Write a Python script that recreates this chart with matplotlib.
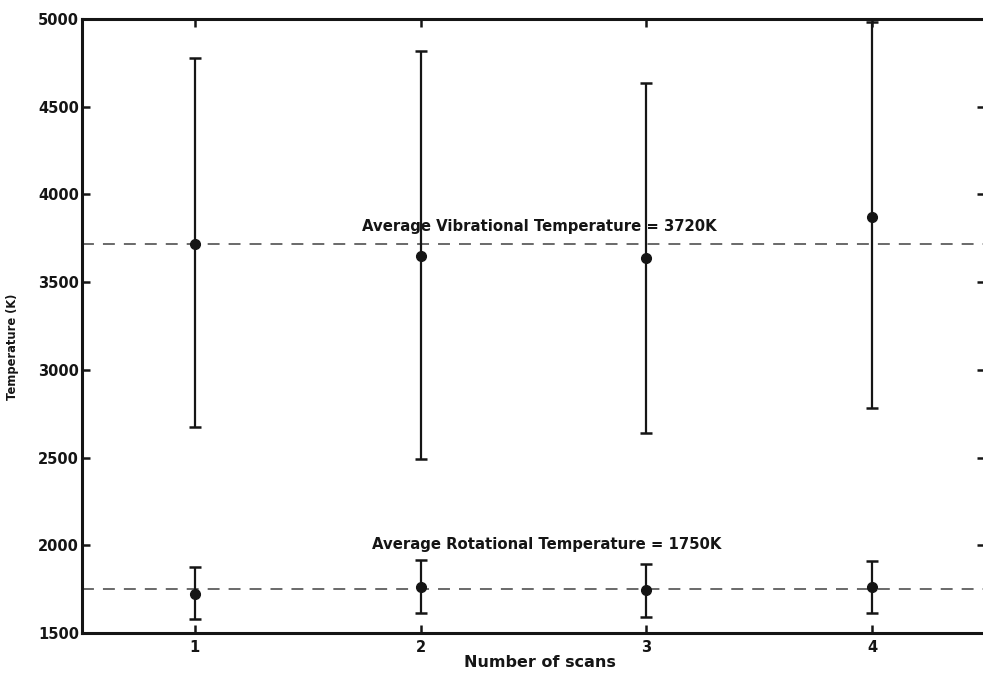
import matplotlib
matplotlib.use("Agg")
import matplotlib.pyplot as plt

scans = [1, 2, 3, 4]

# vibrational temperature per scan, with the ends of each error bar
vib_temp = [3720, 3650, 3635, 3870]
vib_low = [2675, 2490, 2640, 2780]
vib_high = [4780, 4820, 4635, 4985]

# rotational temperature per scan
rot_temp = [1725, 1765, 1745, 1760]
rot_low = [1578, 1616, 1593, 1612]
rot_high = [1878, 1916, 1892, 1910]

avg_vib = 3720
avg_rot = 1750

plt.rcParams["font.family"] = ["DejaVu Sans"]
ink = "#151515"

fig = plt.figure(figsize=(9.83, 6.76), dpi=100)
ax = fig.add_axes([0.0834, 0.0636, 1.002 - 0.0834, 0.972 - 0.0636])

def draw_series(temps, lows, highs):
    err = [[t - lo for t, lo in zip(temps, lows)],
           [hi - t for t, hi in zip(temps, highs)]]
    ax.errorbar(scans, temps, yerr=err, fmt="o", color=ink,
                ms=7, elinewidth=1.6, capsize=4, capthick=1.8, zorder=3)

draw_series(vib_temp, vib_low, vib_high)
draw_series(rot_temp, rot_low, rot_high)

for avg in (avg_vib, avg_rot):
    ax.axhline(avg, color="#5e5e5e", lw=1.3, ls=(0, (6.6, 5)), zorder=2)

ax.text(2.525, avg_vib + 96, "Average Vibrational Temperature = %dK" % avg_vib,
        ha="center", va="center", fontsize=10.7, fontweight="bold", color=ink)
ax.text(2.56, 2002, "Average Rotational Temperature = %dK" % avg_rot,
        ha="center", va="center", fontsize=10.7, fontweight="bold", color=ink)

ax.set_xlim(0.5, 4.5)
ax.set_ylim(1500, 5000)
ax.set_xticks(scans)
ax.set_yticks(range(1500, 5001, 500))

ax.set_xlabel("Number of scans", fontsize=11.5, fontweight="bold", color=ink)
ax.set_ylabel("Temperature (K)", fontsize=8.3, fontweight="bold", color=ink)
ax.xaxis.set_label_coords(0.507, -0.036)
ax.yaxis.set_label_coords(-0.0698, 0.466)

for side in ax.spines.values():
    side.set_linewidth(2.2)
    side.set_color(ink)
ax.tick_params(direction="in", length=6, width=1.8, top=True, right=True,
               labelsize=10.5, colors=ink)
for lab in ax.get_xticklabels() + ax.get_yticklabels():
    lab.set_fontweight("bold")
ax.tick_params(axis="y", pad=2)
ax.tick_params(axis="x", pad=5)

fig.savefig("out.png", dpi=100)
